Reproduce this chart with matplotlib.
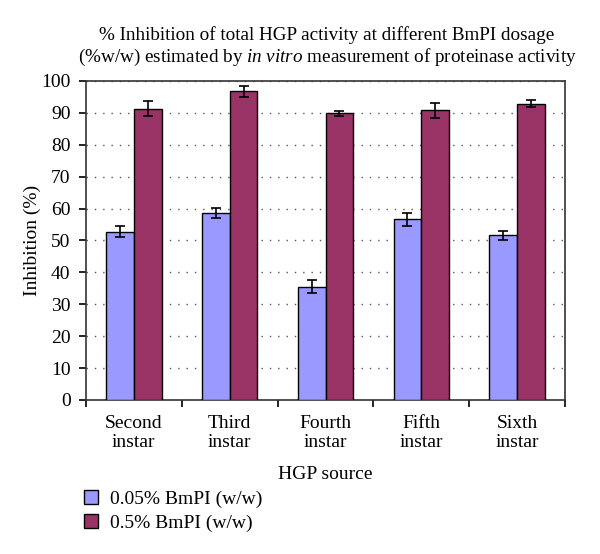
import numpy as np
import matplotlib.pyplot as plt

# data
categories = ["Second\ninstar", "Third\ninstar", "Fourth\ninstar", "Fifth\ninstar", "Sixth\ninstar"]
low_dose = [52.8, 58.7, 35.5, 56.6, 51.6]
low_err = [1.7, 1.6, 2.0, 2.1, 1.5]
high_dose = [91.3, 96.8, 89.8, 90.8, 92.9]
high_err = [2.4, 1.7, 0.7, 2.3, 1.0]
series_names = ["0.05% BmPI (w/w)", "0.5% BmPI (w/w)"]

plt.rcParams['font.family'] = ['Liberation Serif', 'DejaVu Serif']
plt.rcParams['mathtext.fontset'] = 'custom'
plt.rcParams['mathtext.rm'] = 'Liberation Serif'
plt.rcParams['mathtext.it'] = 'Liberation Serif:italic'

fig = plt.figure(figsize=(6, 5.54), dpi=100)
ax = fig.add_axes([0.143, 0.278, 0.799, 0.576])

x = np.arange(len(categories))
w = 0.29

b1 = ax.bar(x - w / 2, low_dose, w, color='#9999FF', edgecolor='black', linewidth=1.0,
            yerr=low_err, capsize=3.5, error_kw=dict(elinewidth=1.2, capthick=1.2, ecolor='black'),
            zorder=3, label=series_names[0])
b2 = ax.bar(x + w / 2, high_dose, w, color='#993366', edgecolor='black', linewidth=1.0,
            yerr=high_err, capsize=3.5, error_kw=dict(elinewidth=1.2, capthick=1.2, ecolor='black'),
            zorder=3, label=series_names[1])

ax.set_xlim(-0.5, len(categories) - 0.5)
ax.set_ylim(0, 100)
ax.set_yticks(np.arange(0, 101, 10))
ax.yaxis.grid(True, linestyle=(0, (1, 5)), color='#555555', linewidth=1.0)
ax.set_axisbelow(True)

# category labels centred, tick marks on category boundaries
ax.set_xticks(x)
ax.set_xticklabels(categories, fontsize=14, linespacing=1.1)
ax.tick_params(axis='x', which='major', length=0, pad=11)
ax.set_xticks(np.arange(-0.5, len(categories)), minor=True)
ax.tick_params(axis='x', which='minor', length=5, width=1.2, direction='out')
ax.tick_params(axis='y', length=5, width=1.2, labelsize=14, direction='out', pad=6)

for s in ax.spines.values():
    s.set_linewidth(1.2)
    s.set_color('#333333')

ax.set_ylabel("Inhibition (%)", fontsize=14, labelpad=0)
ax.set_xlabel("HGP source", fontsize=14, labelpad=11)

fig.text(0.545, 0.937, "% Inhibition of total HGP activity at different BmPI dosage",
         ha='center', va='center', fontsize=13.8)
fig.text(0.545, 0.896, "(%w/w) estimated by $\\mathit{in\\ vitro}$ measurement of proteinase activity",
         ha='center', va='center', fontsize=13.8)

fig.legend(handles=[b1, b2], labels=series_names, loc='upper left',
           bbox_to_anchor=(0.14, 0.115), frameon=False, fontsize=14, borderpad=0,
           handlelength=0.72, handleheight=0.72, handletextpad=0.62, labelspacing=0.3,
           borderaxespad=0)

fig.savefig("out.png", dpi=100)
